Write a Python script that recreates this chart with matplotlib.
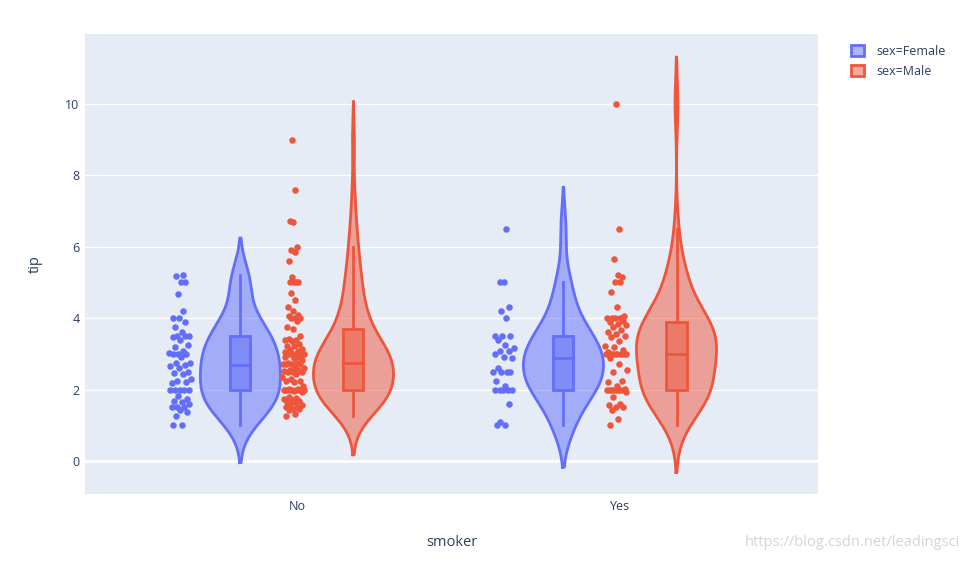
import numpy as np
import matplotlib.pyplot as plt
from matplotlib.patches import Patch, Rectangle

plt.rcParams['font.family'] = ['Open Sans', 'DejaVu Sans']

# categorias y colores
smoker = ['No', 'Yes']
sexes = ['Female', 'Male']
colores = {'Female': '#636EFA', 'Male': '#EF553B'}

# propinas (aprox.)
tip_female_no = [1.0, 1.0, 1.25, 1.36, 1.44, 1.5, 1.5, 1.5, 1.61, 1.66, 1.67, 1.75, 1.83,
                 2.0, 2.0, 2.0, 2.0, 2.0, 2.18, 2.2, 2.23, 2.3, 2.45, 2.47, 2.5, 2.6,
                 2.66, 2.7, 2.75, 2.75, 2.92, 3.0, 3.0, 3.0, 3.02, 3.07, 3.18, 3.25, 3.4,
                 3.48, 3.5, 3.5, 3.5, 3.61, 3.75, 3.9, 4.0, 4.0, 4.2, 4.67, 5.0, 5.0, 5.17, 5.2]
tip_male_no = [1.25, 1.32, 1.44, 1.45, 1.47, 1.5, 1.5, 1.56, 1.57, 1.64, 1.66, 1.68, 1.71,
               1.73, 1.76, 1.8, 1.92, 1.96, 2.0, 2.0, 2.0, 2.0, 2.0, 2.0, 2.0,
               2.0, 2.0, 2.01, 2.03, 2.09, 2.2, 2.23, 2.24, 2.31, 2.34, 2.45, 2.5, 2.5, 2.5,
               2.52, 2.55, 2.56, 2.6, 2.64, 2.71, 2.72, 2.72, 2.73, 2.74,
               2.75, 2.83, 2.88, 2.9, 2.92, 3.0, 3.0, 3.0, 3.0, 3.0, 3.0, 3.06, 3.09, 3.11,
               3.15, 3.21, 3.23, 3.27, 3.35, 3.39, 3.4, 3.41, 3.5, 3.71,
               3.76, 3.92, 4.0, 4.0, 4.0, 4.06, 4.08, 4.19, 4.3, 4.5, 4.71, 5.0, 5.0, 5.0,
               5.0, 5.16, 5.6, 5.85, 5.92, 6.0, 6.7, 6.73, 7.58, 9.0]
tip_female_yes = [1.0, 1.0, 1.1, 1.61, 2.0, 2.0, 2.0, 2.0, 2.0, 2.09, 2.23, 2.5, 2.5, 2.5,
                  2.5, 2.6, 2.88, 2.92, 3.0, 3.08, 3.09, 3.16, 3.25, 3.4, 3.5, 3.5, 3.5,
                  4.0, 4.2, 4.3, 5.0, 5.0, 6.5]
tip_male_yes = [1.0, 1.17, 1.44, 1.5, 1.5, 1.58, 1.61, 1.8, 1.92, 2.0, 2.0, 2.0, 2.0, 2.0,
                2.0, 2.0, 2.01, 2.09, 2.2, 2.24, 2.5, 2.56, 2.72, 2.88, 3.0, 3.0, 3.0, 3.0,
                3.0, 3.0, 3.0, 3.06, 3.11, 3.18, 3.23, 3.37, 3.48, 3.5, 3.55, 3.62, 3.68,
                3.76, 3.82, 3.85, 3.9, 3.92, 4.0, 4.0, 4.0, 4.0, 4.06, 4.3, 4.73, 5.0, 5.0,
                5.16, 5.2, 5.65, 6.5, 10.0]

datos = {
    ('No', 'Female'): tip_female_no,
    ('No', 'Male'): tip_male_no,
    ('Yes', 'Female'): tip_female_yes,
    ('Yes', 'Male'): tip_male_yes,
}


# Funcion para estimar densidad (kernel gaussiano, regla de Silverman)
def densidad(valores):
    v = np.asarray(valores, dtype=float)
    q1, q3 = np.percentile(v, [25, 75])
    a = min(v.std(ddof=1), (q3 - q1) / 1.349)
    bw = 1.059 * a * len(v) ** -0.2
    ys = np.linspace(v.min() - 2 * bw, v.max() + 2 * bw, 300)
    dens = np.exp(-0.5 * ((ys[:, None] - v[None, :]) / bw) ** 2).sum(axis=1)
    return ys, dens, bw


fig = plt.figure(figsize=(9.69, 5.62), dpi=100)
ax = fig.add_axes([85 / 969, 1 - 494 / 562, 733 / 969, 460 / 562])
ax.set_facecolor('#E5ECF6')

semi_ancho = 0.124
desplaz = {'Female': -0.175, 'Male': 0.175}

for i, s in enumerate(smoker):
    for sex in sexes:
        vals = np.array(datos[(s, sex)])
        col = colores[sex]
        c = i + desplaz[sex]
        ys, dens, bw = densidad(vals)
        w = dens / dens.max() * semi_ancho

        # violin
        ax.fill_betweenx(ys, c - w, c + w, facecolor=col, alpha=0.5, lw=0, zorder=2)
        ax.plot(np.concatenate([c - w, (c + w)[::-1], [c - w[0]]]),
                np.concatenate([ys, ys[::-1], [ys[0]]]),
                color=col, lw=2, zorder=3, solid_joinstyle='round')

        # caja
        q1, med, q3 = np.percentile(vals, [25, 50, 75])
        iqr = q3 - q1
        lo = vals[vals >= q1 - 1.5 * iqr].min()
        hi = vals[vals <= q3 + 1.5 * iqr].max()
        ax.plot([c, c], [lo, q1], color=col, lw=2, zorder=4)
        ax.plot([c, c], [q3, hi], color=col, lw=2, zorder=4)
        ax.add_patch(Rectangle((c - 0.031, q1), 0.062, iqr, facecolor=col, alpha=0.5,
                               lw=0, zorder=4))
        ax.add_patch(Rectangle((c - 0.031, q1), 0.062, iqr, facecolor='none',
                               edgecolor=col, lw=2, zorder=5))
        ax.plot([c - 0.031, c + 0.031], [med, med], color=col, lw=2, zorder=5)

        # puntos con jitter determinista segun densidad
        dpt = np.interp(vals, ys, dens) / dens.max()
        frac = (np.arange(len(vals)) * 0.618034) % 1 * 2 - 1
        xs = c - 0.186 + 0.036 * frac * (0.3 + 0.7 * dpt)
        ax.scatter(xs, vals, s=22, color=col, lw=0, zorder=6)

ax.set_xlim(-0.656, 1.613)
ax.set_ylim(-0.924, 11.96)
ax.set_xticks(range(len(smoker)))
ax.set_xticklabels(smoker)
ax.set_yticks([0, 2, 4, 6, 8, 10])
for yv in [2, 4, 6, 8, 10]:
    ax.axhline(yv, color='white', lw=1, zorder=1)
ax.axhline(0, color='white', lw=2, zorder=1)
for sp in ax.spines.values():
    sp.set_visible(False)
ax.tick_params(length=0, labelsize=9, colors='#2a3f5f')
ax.tick_params(axis='y', pad=4)
ax.tick_params(axis='x', pad=4)
ax.set_xlabel('smoker', fontsize=10.5, color='#2a3f5f', labelpad=16)
ax.set_ylabel('tip', fontsize=10.5, color='#2a3f5f', labelpad=16)

# leyenda
handles = [Patch(facecolor=colores[sx] + '80', edgecolor=colores[sx], lw=2,
                 label='sex=' + sx) for sx in sexes]
fig.legend(handles=handles, loc='upper left', bbox_to_anchor=(846 / 969, 1 - 40 / 562),
           frameon=False, fontsize=9, labelcolor='#2a3f5f', handlelength=1.0,
           handleheight=1.0, handletextpad=1.0, labelspacing=0.55, borderaxespad=0)

# marca de agua
fig.text(960 / 969, 1 - 543 / 562, 'https://blog.csdn.net/leadingsci', ha='right',
         va='center', fontsize=10.5, color='#d4d4d4')

fig.savefig('out.png', dpi=100)
